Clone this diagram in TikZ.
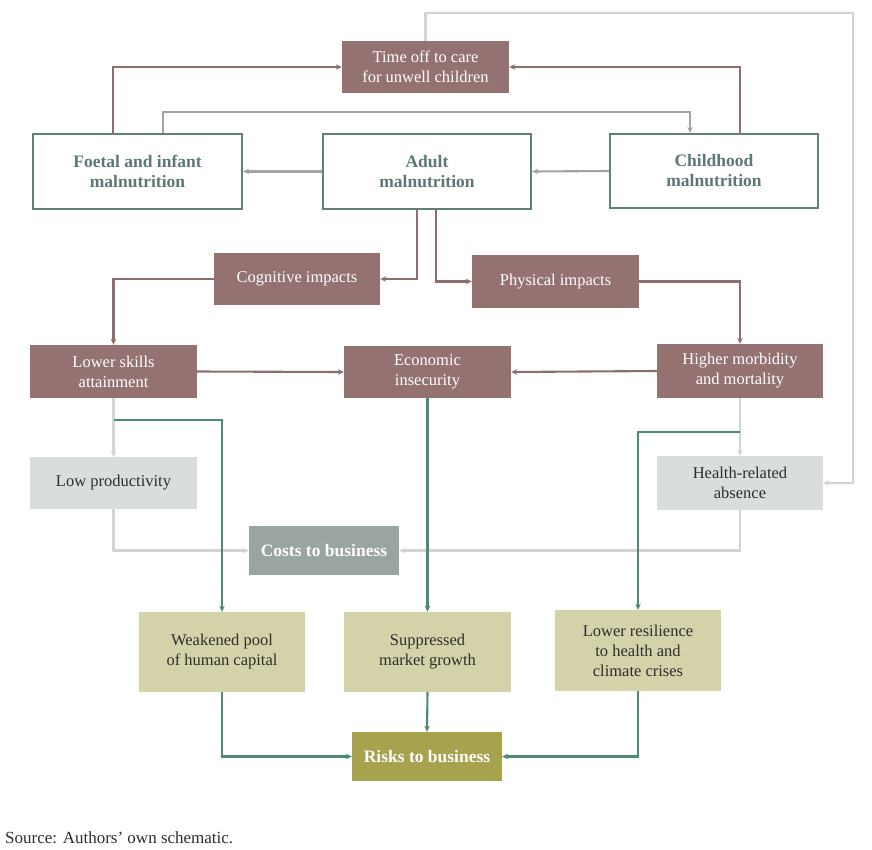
\documentclass[tikz,border=0pt]{standalone}
\usepackage{fontspec}
\setmainfont{Liberation Serif}
\usetikzlibrary{arrows.meta}
\definecolor{mauve}{HTML}{957272}
\definecolor{mauveln}{HTML}{8F6D6D}
\definecolor{tealbd}{HTML}{637F7C}
\definecolor{tealtx}{HTML}{5B7876}
\definecolor{costc}{HTML}{9AA5A2}
\definecolor{riskc}{HTML}{A6A24E}
\definecolor{khaki}{HTML}{D4D2A9}
\definecolor{lgbox}{HTML}{D9DDDC}
\definecolor{greenln}{HTML}{4F8A76}
\definecolor{greyln}{HTML}{A3A3A3}
\definecolor{lightln}{HTML}{D2D3D3}
\definecolor{darktx}{HTML}{2E2E2E}
\tikzset{
  box/.style={inner sep=0pt, align=center, font=\fontsize{16.5}{20}\selectfont},
  mbox/.style={box, fill=mauve, text=white},
  tbox/.style={box, draw=tealbd, line width=2.2pt, fill=white, text=tealtx, font=\fontsize{17.5}{20}\selectfont\bfseries},
  gbox/.style={box, fill=lgbox, text=darktx},
  kbox/.style={box, fill=khaki, text=darktx},
  mv/.style={draw=mauveln, line width=2.1pt, -{Stealth[length=6pt,width=5.5pt]}},
  gr/.style={draw=greyln, line width=2.1pt, -{Stealth[length=6pt,width=5.5pt]}},
  lt/.style={draw=lightln, line width=2.1pt, -{Stealth[length=6pt,width=5.5pt]}},
  gn/.style={draw=greenln, line width=2.1pt, -{Stealth[length=6pt,width=5.5pt]}},
}
\begin{document}
\begin{tikzpicture}[x=1pt,y=-1pt]
\useasboundingbox (0,0) rectangle (872,849);
\fill[white] (0,0) rectangle (872,849);
% nodes
\node[mbox, minimum width=167pt, minimum height=52pt] (timeoff) at (425.5,67) {Time off to care\\for unwell children};
\node[tbox, minimum width=209pt, minimum height=75pt] (foetal) at (137.5,171.5) {Foetal and infant\\malnutrition};
\node[tbox, minimum width=208pt, minimum height=75pt] (adult) at (427,171.5) {Adult\\malnutrition};
\node[tbox, minimum width=208pt, minimum height=74pt] (child) at (714,171) {Childhood\\malnutrition};
\node[mbox, minimum width=166pt, minimum height=52pt] (cog) at (297,279) {Cognitive impacts};
\node[mbox, minimum width=167pt, minimum height=53pt] (phys) at (555.5,281.5) {Physical impacts};
\node[mbox, minimum width=167pt, minimum height=53pt] (lower) at (113.5,371.5) {Lower skills\\attainment};
\node[mbox, minimum width=167pt, minimum height=52pt] (econ) at (427.5,372) {Economic\\insecurity};
\node[mbox, minimum width=166pt, minimum height=54pt] (higher) at (740,371) {Higher morbidity\\and mortality};
\node[gbox, minimum width=167pt, minimum height=52pt] (lowprod) at (113.5,483) {Low productivity};
\node[gbox, minimum width=166pt, minimum height=54pt] (health) at (740,483) {Health-related\\absence};
\node[box, fill=costc, text=white, font=\fontsize{17.5}{20}\selectfont\bfseries, minimum width=150pt, minimum height=49pt] (costs) at (324,550.5) {Costs to business};
\node[kbox, minimum width=166pt, minimum height=80pt] (weak) at (222,652) {Weakened pool\\of human capital};
\node[kbox, minimum width=167pt, minimum height=80pt] (supp) at (427.5,652) {Suppressed\\market growth};
\node[kbox, minimum width=166pt, minimum height=81pt] (resil) at (638,650.5) {Lower resilience\\to health and\\climate crises};
\node[box, fill=riskc, text=white, font=\fontsize{17.5}{20}\selectfont\bfseries, minimum width=150pt, minimum height=49pt] (risks) at (427,756.5) {Risks to business};
\node[anchor=base west, inner sep=0pt, text=darktx, font=\fontsize{17}{20}\selectfont] (src) at (5,843) {Source: Authors’ own schematic.};
\coordinate (rt) at (853,13);
% connectors
\draw[mv] ([xshift=-24.5pt]foetal.north) |- (timeoff.west);
\draw[mv] ([xshift=26pt]child.north) |- (timeoff.east);
\draw[gr] ([xshift=25.5pt]foetal.north) -- ++(0,-21) -| ([xshift=-24pt]child.north);
\draw[gr] (adult.west) -- (foetal.east);
\draw[gr] (child.west) -- (adult.east);
\draw[mv] ([xshift=-10pt]adult.south) |- (cog.east);
\draw[mv] ([xshift=9pt]adult.south) |- (phys.west);
\draw[mv] (cog.west) -| (lower.north);
\draw[mv] (phys.east) -| (higher.north);
\draw[mv] (lower.east) -- (econ.west);
\draw[mv] (higher.west) -- (econ.east);
\draw[lt] (lower.south) -- (lowprod.north);
\draw[lt] (higher.south) -- (health.north);
\draw[lt] (timeoff.north) |- (rt) |- (health.east);
\draw[lt] (lowprod.south) |- (costs.west);
\draw[lt] (health.south) |- (costs.east);
\draw[gn] ([yshift=-22pt]lower.south) -| (weak.north);
\draw[gn] (econ.south) -- (supp.north);
\draw[gn] ([yshift=-34pt]higher.south) -| (resil.north);
\draw[gn] (weak.south) |- (risks.west);
\draw[gn] (supp.south) -- (risks.north);
\draw[gn] (resil.south) |- (risks.east);
\end{tikzpicture}
\end{document}
